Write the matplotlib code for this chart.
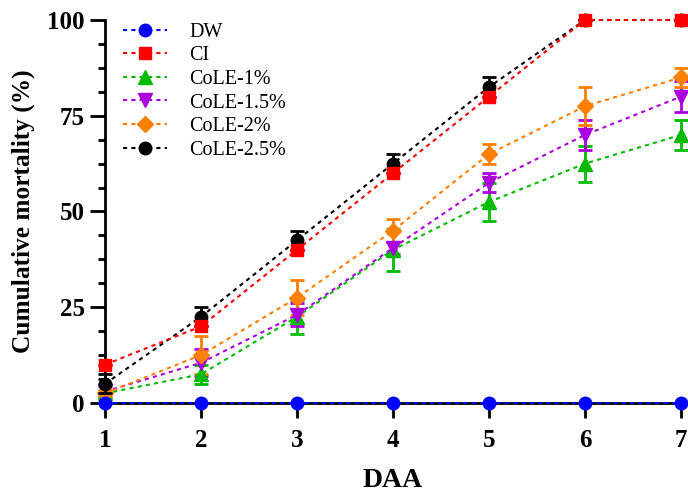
import matplotlib.pyplot as plt
from matplotlib.ticker import MultipleLocator

plt.rcParams['font.family'] = ['Liberation Serif', 'DejaVu Serif']

# Days after application
daa = [1, 2, 3, 4, 5, 6, 7]

# Cumulative mortality (%) per treatment, with error bars
dw = [0, 0, 0, 0, 0, 0, 0]
dw_err = [0, 0, 0, 0, 0, 0, 0]
ci = [10, 20, 40, 60, 80, 100, 100]
ci_err = [0, 0, 0, 0, 0, 0, 0]
cole_1 = [2.5, 7.5, 22.5, 40, 52.5, 62.5, 70]
cole_1_err = [2.5, 2.5, 4.5, 5.5, 5, 4.7, 4]
cole_15 = [3, 10.5, 23, 40.5, 57.5, 70, 80]
cole_15_err = [1.5, 3.5, 3, 1.5, 2.5, 4, 4]
cole_2 = [2.5, 12.5, 27.5, 45, 65, 77.5, 85]
cole_2_err = [1, 5, 4.5, 3, 2.7, 5, 2.5]
cole_25 = [5, 22.5, 42.5, 62.5, 82.5, 100, 100]
cole_25_err = [2.5, 2.5, 2.5, 2.5, 2.5, 0, 0]

series = [
    ("DW", dw, dw_err, "#0000ff", "o", 9, 6),
    ("CI", ci, ci_err, "#ff0000", "s", 9, 7),
    ("CoLE-1%", cole_1, cole_1_err, "#00bb00", "^", 10, 3),
    ("CoLE-1.5%", cole_15, cole_15_err, "#aa00dd", "v", 10, 3),
    ("CoLE-2%", cole_2, cole_2_err, "#ff8000", "D", 8, 3),
    ("CoLE-2.5%", cole_25, cole_25_err, "#000000", "o", 9, 4),
]

fig = plt.figure(figsize=(6.88, 4.93), dpi=100)
ax = fig.add_axes([0.1526, 0.1826, 0.8372, 0.7768])

handles = []
for name, y, err, col, mk, ms, z in series:
    eb = ax.errorbar(daa, y, yerr=err, color=col, marker=mk, markersize=ms,
                     linestyle=(0, (2, 2)), linewidth=1.5, elinewidth=2,
                     capsize=5, capthick=2, label=name, zorder=z, clip_on=False)
    handles.append(eb[0])

ax.set_xlim(1, 7)
ax.set_ylim(0, 100)
ax.set_xticks(daa)
ax.yaxis.set_major_locator(MultipleLocator(25))
ax.yaxis.set_minor_locator(MultipleLocator(6.25))
ax.spines['top'].set_visible(False)
ax.spines['right'].set_visible(False)
ax.spines['left'].set_linewidth(2)
ax.spines['bottom'].set_linewidth(2)
ax.tick_params(axis='both', which='major', length=11, width=2, labelsize=18)
ax.tick_params(axis='x', which='major', pad=8)
ax.tick_params(axis='y', which='minor', length=5, width=2)
for lbl in ax.get_xticklabels() + ax.get_yticklabels():
    lbl.set_fontweight('bold')

ax.set_xlabel("DAA", fontsize=20, fontweight='bold', labelpad=11)
ax.set_ylabel("Cumulative mortality (%)", fontsize=18.3, fontweight='bold', labelpad=9)

ax.legend(handles, [s[0] for s in series], loc='upper left',
          bbox_to_anchor=(0.0, 1.04), frameon=False,
          fontsize=14.5, handlelength=2.2, labelspacing=0.22, handletextpad=1.1)

fig.savefig("out.png", dpi=100)
